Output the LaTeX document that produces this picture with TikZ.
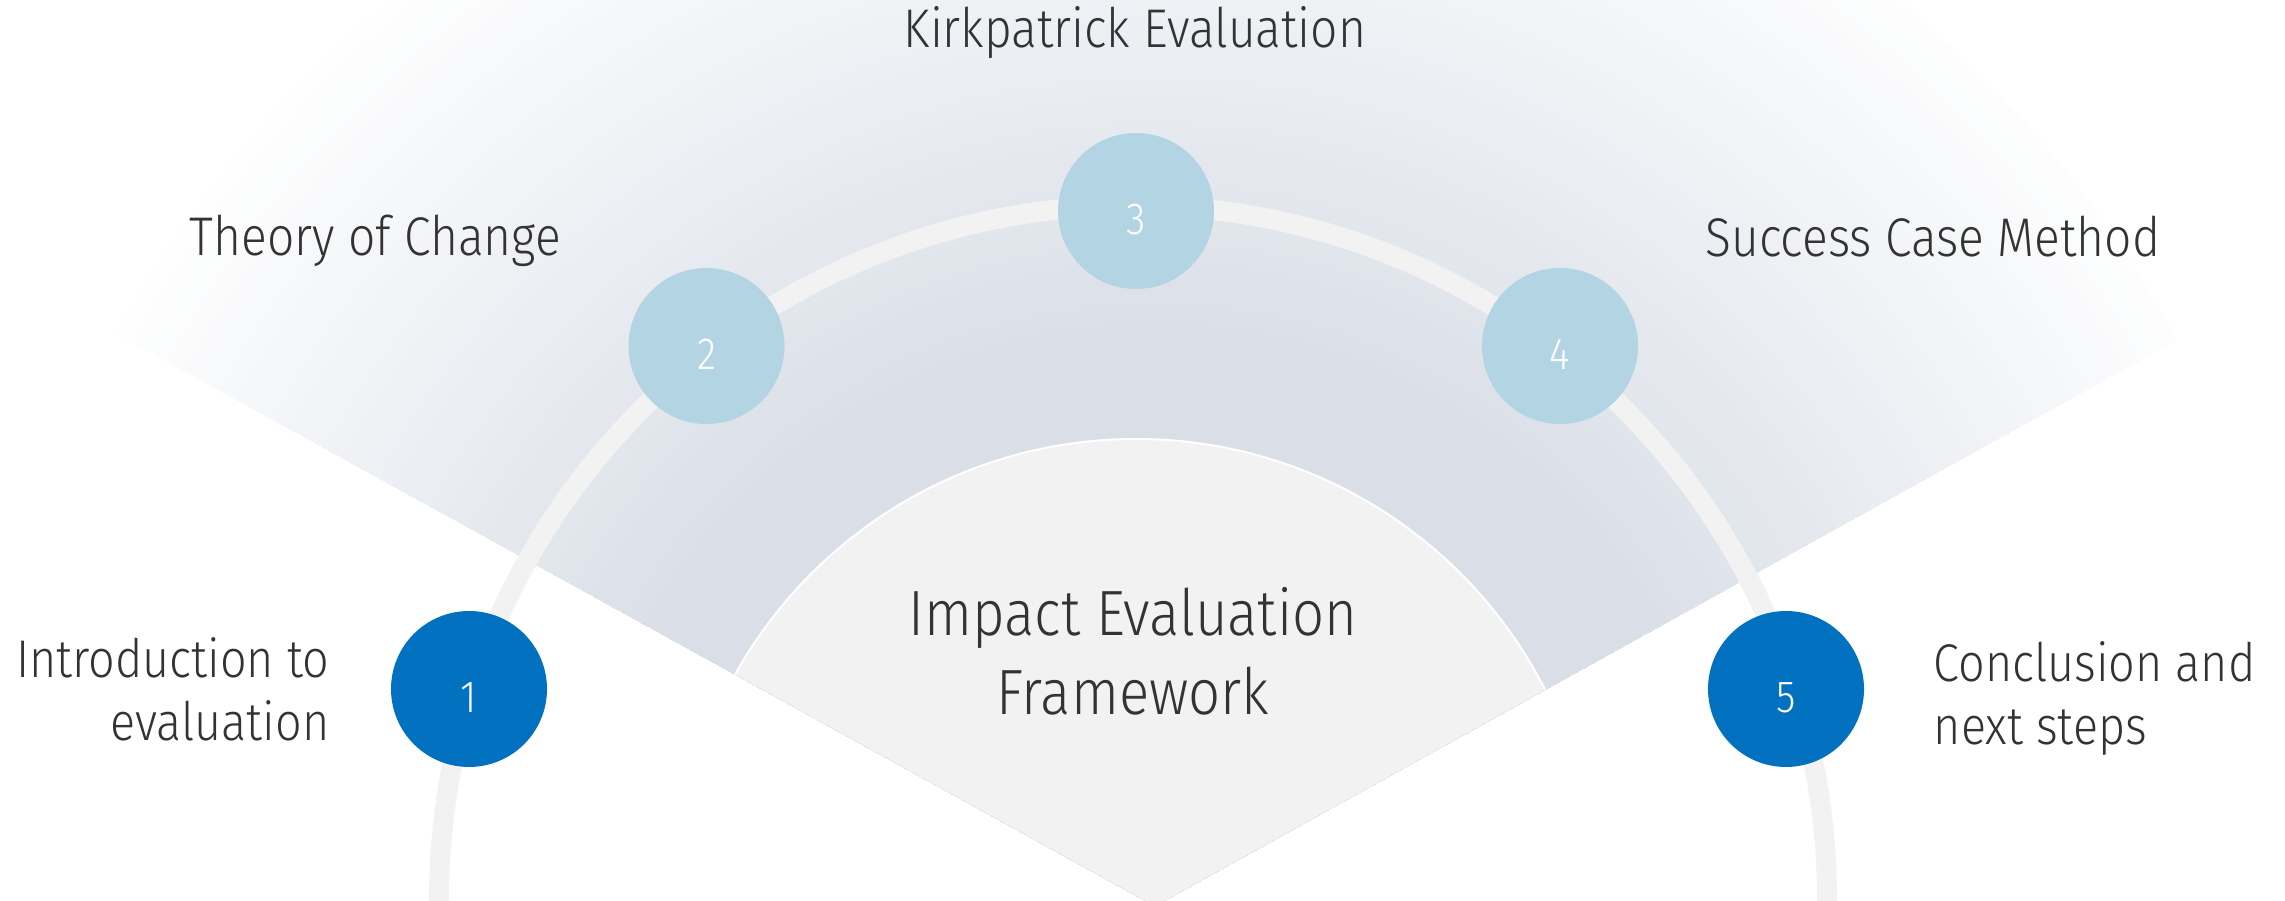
\documentclass[tikz,border=0pt]{standalone}
\usepackage{fontspec}
\IfFontExistsTF{Fira Sans Light}
  {\setmainfont{Fira Sans Light}[FakeStretch=0.88]}
  {\setmainfont{Fira Sans}[FakeStretch=0.88]}

\definecolor{inkgrey}{HTML}{333333}
\definecolor{stepblue}{HTML}{0171C0}
\definecolor{steplight}{HTML}{B2D4E3}
\definecolor{paleband}{HTML}{F2F2F2}
\definecolor{fandeep}{HTML}{D9DEE7}

\begin{document}
\begin{tikzpicture}[x=0.1mm, y=-0.1mm,
  steptext/.style={font=\fontsize{15.5}{18.2}\selectfont, text=inkgrey, inner sep=0pt},
  steppair/.style={font=\fontsize{15.1}{18.2}\selectfont, text=inkgrey, inner sep=0pt},
  coretext/.style={font=\fontsize{18.2}{22.6}\selectfont, text=inkgrey, inner sep=0pt, align=center},
  stepdot/.style={circle, minimum size=15.6mm, inner sep=0pt, text=white,
    font=\fontsize{12.8}{13}\selectfont, text height=4.8mm, text depth=0pt},
  ring/.style={draw=paleband, line width=2mm}]

\clip (0,0) rectangle (2285,901);
\fill[white] (0,0) rectangle (2285,901);

% fan: apex at the bottom, rim arc beyond the top edge
\coordinate (apex) at (1155,906);
\coordinate (fanL) at (99,323.5);

\begin{scope}
  \clip (apex) -- (fanL) arc[start angle=150.6, end angle=28.5, radius=118.7mm] -- cycle;
  % glow: rings around the apex, white at the rim, deepening towards the hub
  \foreach \r in {1200,1185,...,555} {
    \pgfmathsetmacro\pct{(1200-\r)/6.45}
    \pgfmathsetmacro\rr{\r/10}
    \fill[fandeep!\pct!white] (apex) circle[radius=\rr mm];
  }
  % pale arch holding the framework title
  \fill[paleband, draw=white, line width=0.2mm] (1136,898) circle[radius=45.9mm];
\end{scope}

% track through the five steps
\draw[ring] (1133,899.5) circle[radius=69.4mm];

% steps
\node[stepdot, fill=stepblue]  (s1) at (469,689)   {1};
\node[stepdot, fill=steplight] (s2) at (706.5,346) {2};
\node[stepdot, fill=steplight] (s3) at (1136,211)  {3};
\node[stepdot, fill=steplight] (s4) at (1560,346)  {4};
\node[stepdot, fill=stepblue]  (s5) at (1786,689)  {5};

% labels (multi-line nodes sit on the baseline of their last line)
\node[steptext, anchor=base] (kirk) at (1135,48) {Kirkpatrick Evaluation};
\node[steptext, anchor=base west] (toc) at (189,256) {Theory of Change};
\node[steptext, anchor=base west] (scm) at (1705,257) {Success Case Method};
\node[steppair, anchor=base east, align=right] (intro) at (330,741) {Introduction to\\evaluation};
\node[steppair, anchor=base west, align=left] (concl) at (1933,745) {Conclusion and\\next steps};
\node[coretext, anchor=base] (core) at (1133,715) {Impact Evaluation\\Framework};
\end{tikzpicture}
\end{document}
